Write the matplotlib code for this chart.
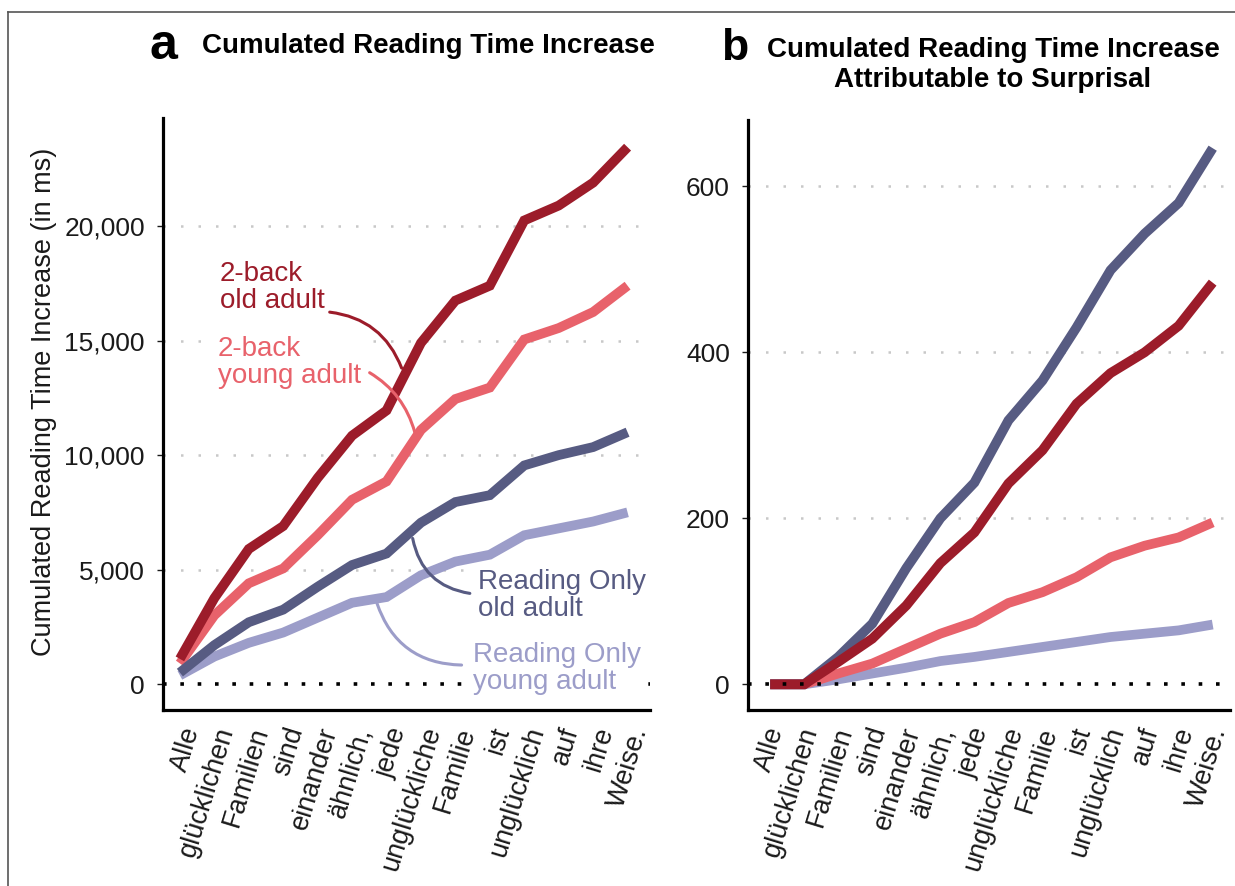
import matplotlib
matplotlib.use('Agg')
import matplotlib.pyplot as plt
import matplotlib.ticker as mticker
from matplotlib.lines import Line2D
from matplotlib.transforms import ScaledTranslation
import numpy as np

plt.rcParams['font.family'] = ['Liberation Sans', 'DejaVu Sans']

words = ['Alle', 'glücklichen', 'Familien', 'sind', 'einander', 'ähnlich,', 'jede',
         'unglückliche', 'Familie', 'ist', 'unglücklich', 'auf', 'ihre', 'Weise.']

# panel a: cumulated reading time increase (ms)
a_nback_old = [1100, 3750, 5900, 6900, 9000, 10850, 11950, 14900, 16750, 17400, 20250, 20900, 21900, 23450]
a_nback_young = [900, 3000, 4400, 5050, 6500, 8050, 8850, 11100, 12450, 12950, 15050, 15550, 16250, 17400]
a_read_old = [500, 1700, 2700, 3250, 4250, 5200, 5700, 7050, 7950, 8250, 9550, 10000, 10350, 11000]
a_read_young = [380, 1200, 1800, 2250, 2900, 3550, 3800, 4750, 5350, 5650, 6500, 6800, 7100, 7500]

# panel b: part attributable to surprisal (ms)
b_nback_old = [0, 0, 27, 55, 95, 146, 183, 242, 282, 338, 375, 400, 432, 484]
b_nback_young = [0, 0, 13, 25, 43, 61, 75, 98, 111, 129, 153, 167, 177, 195]
b_read_old = [0, 0, 33, 73, 140, 200, 243, 318, 366, 430, 499, 543, 580, 646]
b_read_young = [0, 0, 6, 13, 20, 28, 33, 39, 45, 51, 57, 61, 65, 72]

c_nback_old = '#9c1c2a'
c_nback_young = '#e8626b'
c_read_old = '#575b82'
c_read_young = '#9c9dc9'

x = np.arange(len(words))

fig = plt.figure(figsize=(12.35, 8.86), dpi=100)
ax1 = fig.add_axes([0.132, 0.1986, 0.394, 0.668])
ax2 = fig.add_axes([0.6057, 0.1986, 0.390, 0.666])


def style_axis(ax, shift=0):
    for s in ['top', 'right']:
        ax.spines[s].set_visible(False)
    for s in ['left', 'bottom']:
        ax.spines[s].set_linewidth(2.3)
        ax.spines[s].set_color('black')
    ax.tick_params(axis='y', length=4, width=1, pad=9, labelsize=19, colors='#1a1a1a')
    ax.tick_params(axis='x', length=0, pad=10)
    ax.set_xticks(x)
    ax.set_xticklabels(words, rotation=73, ha='right', va='top',
                       rotation_mode='anchor', fontsize=19.5, color='#1a1a1a')
    if shift:
        off = ScaledTranslation(shift / 72, 0, fig.dpi_scale_trans)
        for lab in ax.get_xticklabels():
            lab.set_transform(lab.get_transform() + off)


def draw_lines(ax, series, gridvals):
    for g in gridvals:
        ax.axhline(g, color='#c8c8c8', lw=1.8, dashes=(1, 6), zorder=1)
    for vals, col in series:
        ax.plot(x, vals, color=col, lw=7, solid_capstyle='butt',
                solid_joinstyle='miter', zorder=2)
    ax.axhline(0, color='black', lw=2.6, dashes=(1, 3.8), zorder=3)


series_a = [(a_read_young, c_read_young), (a_nback_young, c_nback_young),
            (a_read_old, c_read_old), (a_nback_old, c_nback_old)]
series_b = [(b_read_young, c_read_young), (b_nback_young, c_nback_young),
            (b_read_old, c_read_old), (b_nback_old, c_nback_old)]

draw_lines(ax1, series_a, [5000, 10000, 15000, 20000])
draw_lines(ax2, series_b, [200, 400, 600])

style_axis(ax1)
style_axis(ax2, shift=-4)

ax1.set_xlim(-0.49, 13.64)
ax1.set_ylim(-1135, 24716)
ax1.set_yticks([0, 5000, 10000, 15000, 20000])
ax1.yaxis.set_major_formatter(mticker.FuncFormatter(lambda v, p: f'{int(v):,}'))
ax1.set_ylabel('Cumulated Reading Time Increase (in ms)', fontsize=19.5, color='#1a1a1a')
ax1.yaxis.set_label_coords(-0.218, 0.52)

ax2.set_xlim(-0.65, 13.5)
ax2.set_ylim(-31, 680)
ax2.set_yticks([0, 200, 400, 600])

# direct labels with connectors (panel a)
labels = [
    ('2-back\nold adult', c_nback_old, (1.16, 17300), (4.35, 16245), (6.44, 13800), -0.3),
    ('2-back\nyoung adult', c_nback_young, (1.10, 14050), (5.51, 13600), (6.82, 11000), -0.2),
    ('Reading Only\nold adult', c_read_old, (8.65, 3850), (8.42, 3960), (6.76, 6360), -0.35),
    ('Reading Only\nyoung adult', c_read_young, (8.50, 700), (8.18, 830), (5.72, 3540), -0.35),
]
for txt, col, pos, start, end, rad in labels:
    ax1.annotate('', xy=end, xytext=start,
                 arrowprops=dict(arrowstyle='-', color=col, lw=2.2,
                                 connectionstyle=f'arc3,rad={rad}',
                                 shrinkA=0, shrinkB=0), zorder=4)
    ax1.text(pos[0], pos[1], txt, color=col, fontsize=20, ha='left', va='center',
             linespacing=1.05, zorder=5,
             bbox=dict(facecolor='white', edgecolor='none', pad=1.5))

# titles
fig.text(163 / 1235, 1 - 46 / 886, 'a', fontsize=36, fontweight='bold', ha='center', va='center')
fig.text(428 / 1235, 1 - 46 / 886, 'Cumulated Reading Time Increase', fontsize=20,
         fontweight='bold', ha='center', va='center')
fig.text(735 / 1235, 1 - 49 / 886, 'b', fontsize=32, fontweight='bold', ha='center', va='center')
fig.text(993 / 1235, 1 - 65 / 886, 'Cumulated Reading Time Increase\nAttributable to Surprisal',
         fontsize=20, fontweight='bold', ha='center', va='center', linespacing=1.2)

# thin frame on the left and top edges
fx = 8 / 1235
fy = 1 - 12 / 886
fig.add_artist(Line2D([fx, fx], [0, fy], color='#555555', lw=1.2, transform=fig.transFigure))
fig.add_artist(Line2D([fx, 1], [fy, fy], color='#555555', lw=1.2, transform=fig.transFigure))

fig.savefig('out.png', dpi=100, facecolor='white')
